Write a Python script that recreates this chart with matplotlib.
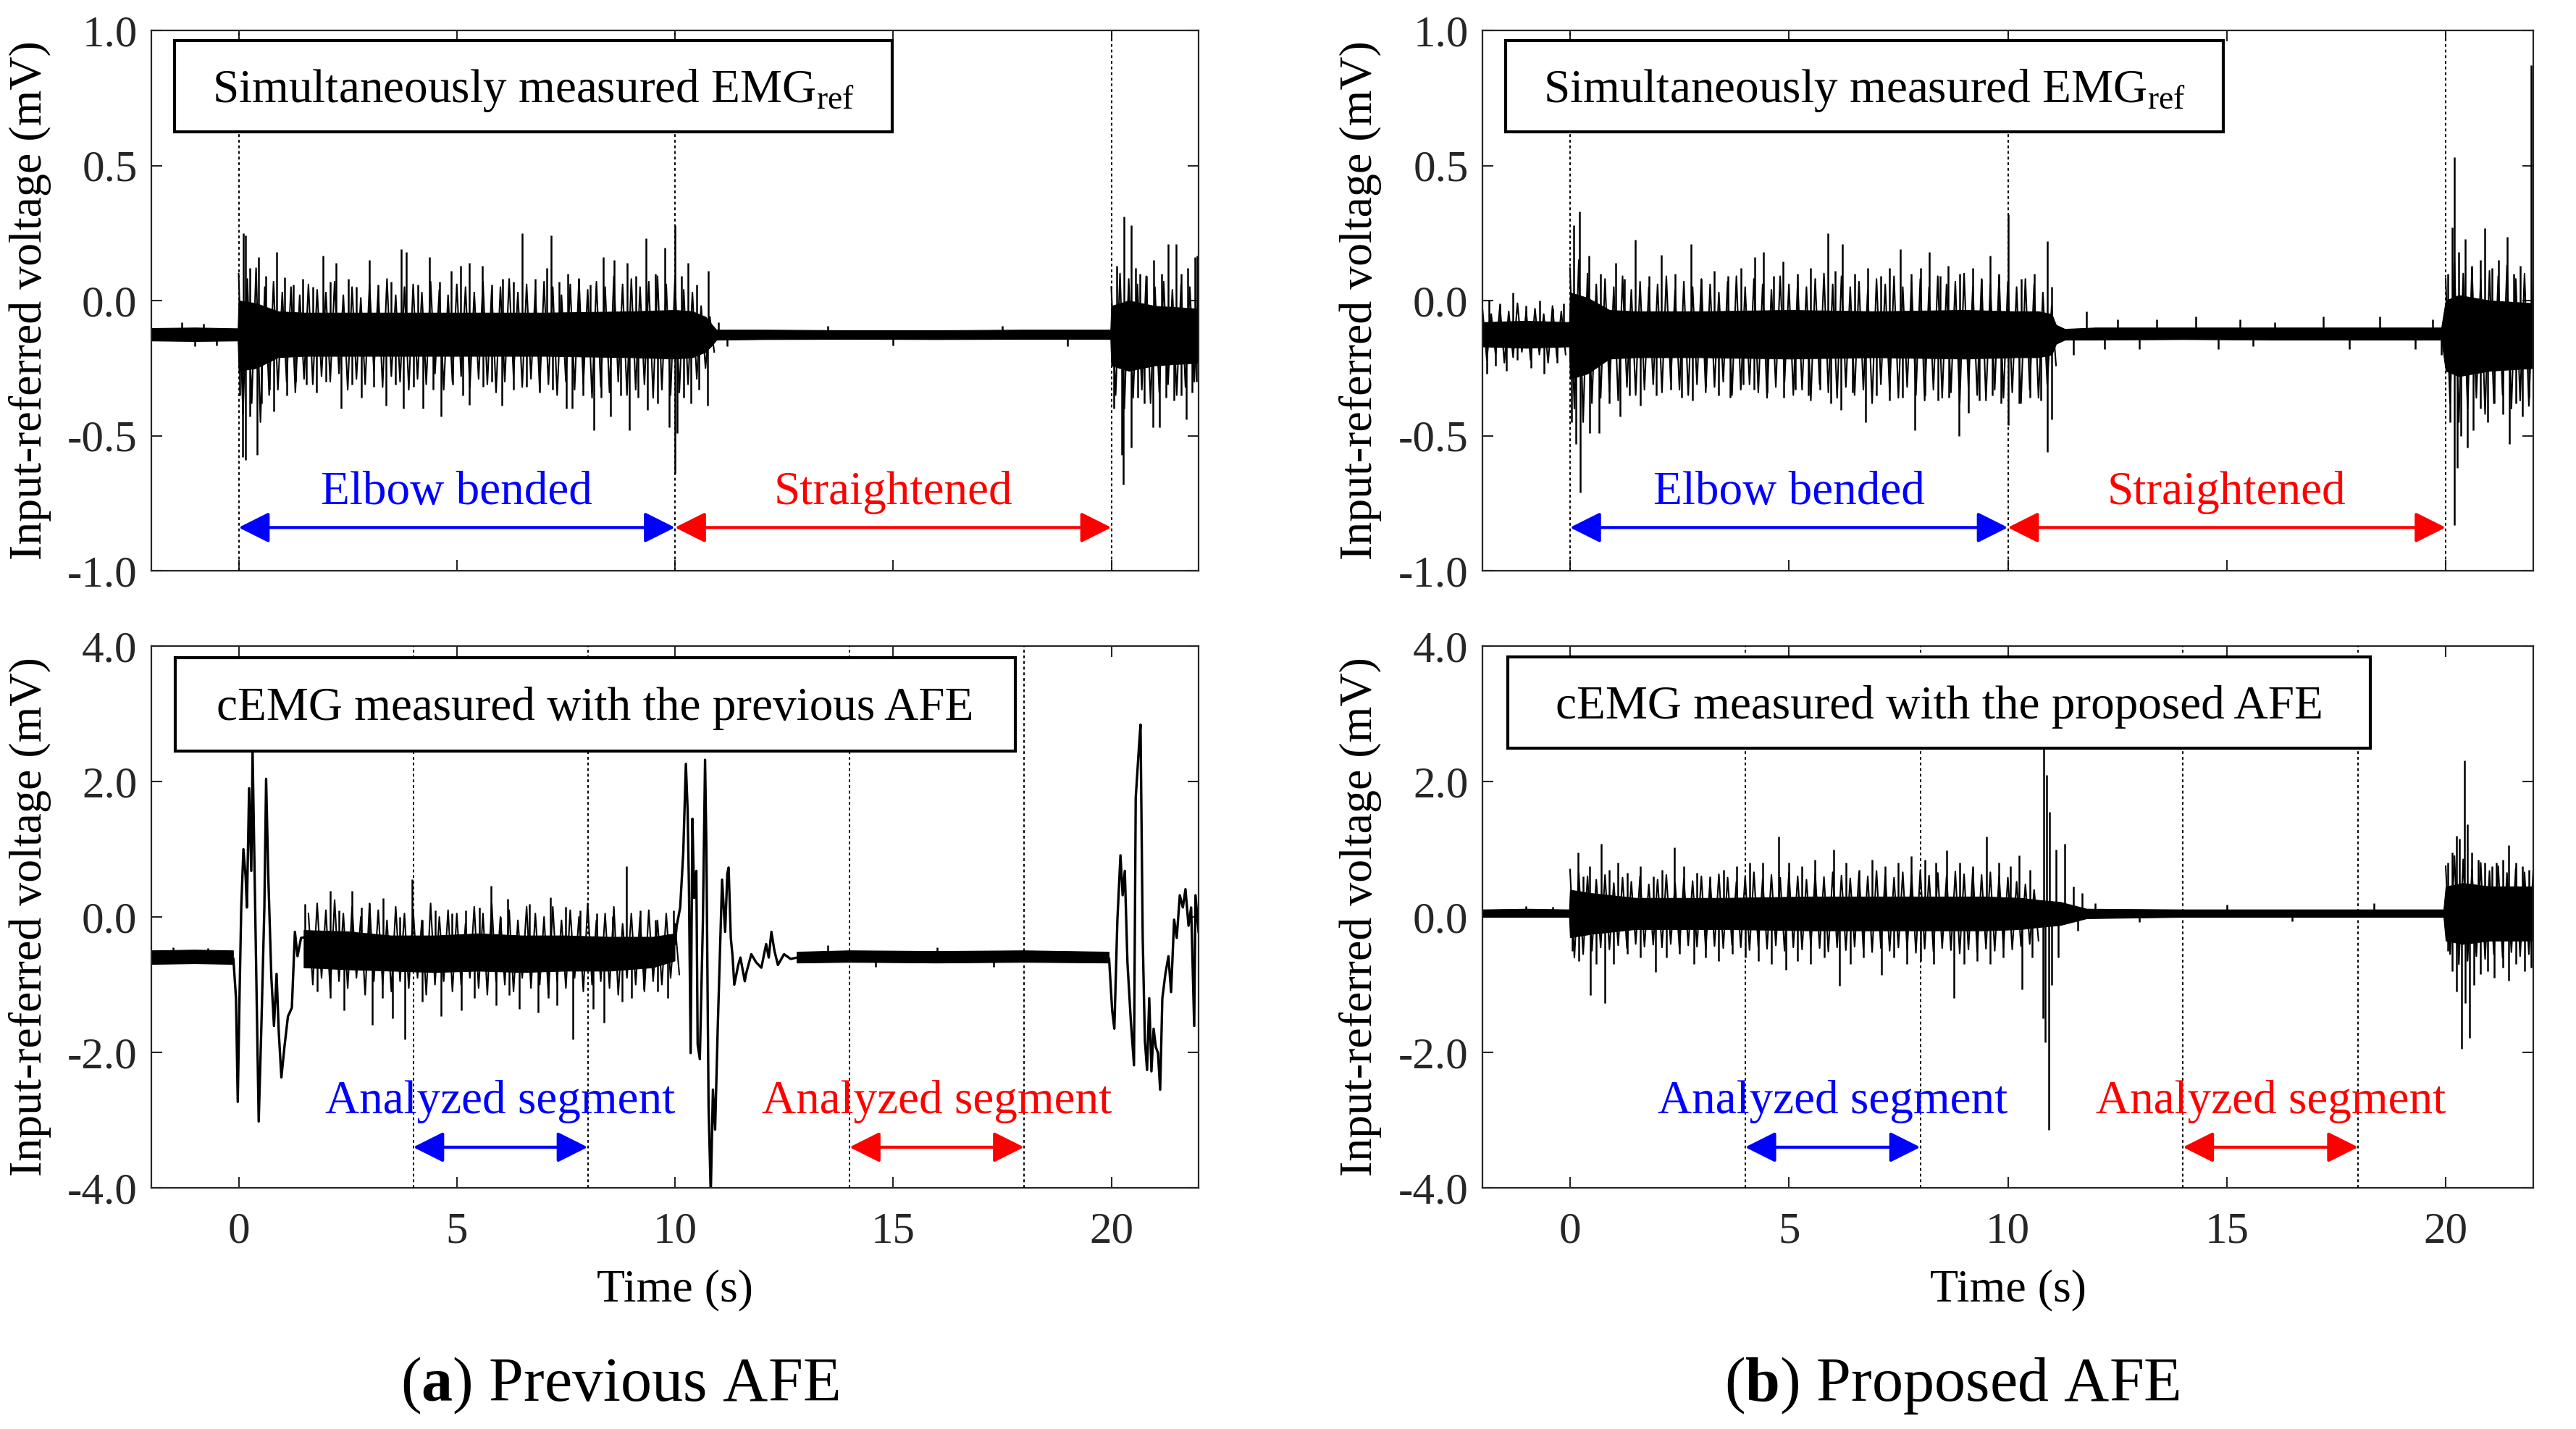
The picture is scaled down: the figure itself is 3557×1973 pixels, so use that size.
import numpy as np
import matplotlib.pyplot as plt
from matplotlib.patches import Rectangle

# Times-like look of the original MATLAB figure
plt.rcParams.update({
    "font.family": "Liberation Serif",
    "mathtext.fontset": "custom",
    "mathtext.rm": "Liberation Serif",
    "mathtext.bf": "Liberation Serif:bold",
    "mathtext.it": "Liberation Serif:italic",
    "axes.unicode_minus": False,
})

# ---------------- data (time in s, voltage in mV) ----------------
# each signal = solid core band (t, hi, lo) + noise texture (start, tips up, tips down, every 0.2 s)
#               + single spikes (t, tip) + slow artefact waves
TEX_STEP = 0.2

# (a) top: EMG_ref measured together with the previous AFE
ref_prev_base = -0.125
ref_prev_band = [(-2.0, -0.102, -0.148), (-1.0, -0.100, -0.150), (-0.02, -0.103, -0.148),
                 (0.0, 0.0, -0.26), (0.4, -0.01, -0.25), (0.9, -0.04, -0.21), (1.5, -0.045, -0.205),
                 (3.0, -0.045, -0.205), (5.0, -0.045, -0.205), (7.0, -0.045, -0.205), (9.0, -0.04, -0.21),
                 (10.0, -0.035, -0.215), (10.4, -0.04, -0.21), (10.7, -0.06, -0.19), (10.85, -0.09, -0.165),
                 (10.95, -0.108, -0.145), (12.0, -0.108, -0.143), (14.0, -0.11, -0.142), (16.0, -0.11, -0.143),
                 (18.0, -0.108, -0.142), (19.98, -0.108, -0.142), (20.0, -0.02, -0.24), (20.4, 0.0, -0.26),
                 (21.0, -0.02, -0.24), (22.0, -0.03, -0.23)]
ref_prev_texture = [
    (0.0,
     [0.10, 0.08, 0.12, 0.05, 0.07, 0.03, 0.05, 0.02, 0.06, 0.04, 0.03, 0.07, 0.02, 0.05, 0.01, 0.06,
      0.04, 0.08, 0.02, 0.05, 0.06, 0.03, 0.07, 0.04, 0.02, 0.06, 0.05, 0.03, 0.07, 0.04, 0.05, 0.08,
      0.03, 0.06, 0.04, 0.07, 0.05, 0.02, 0.06, 0.08, 0.04, 0.07, 0.05, 0.09, 0.06, 0.08, 0.05, 0.07,
      0.09, 0.06, 0.08, 0.04, 0.03, -0.02, -0.06],
     [-0.42, -0.38, -0.45, -0.35, -0.33, -0.30, -0.34, -0.29, -0.31, -0.28, -0.30, -0.27, -0.33, -0.29,
      -0.31, -0.26, -0.32, -0.28, -0.30, -0.33, -0.29, -0.31, -0.27, -0.33, -0.30, -0.28, -0.32, -0.29,
      -0.31, -0.34, -0.30, -0.28, -0.32, -0.29, -0.33, -0.31, -0.35, -0.30, -0.33, -0.31, -0.36, -0.32,
      -0.34, -0.30, -0.35, -0.33, -0.31, -0.36, -0.33, -0.35, -0.34, -0.31, -0.29, -0.25, -0.19]),
    (20.0,
     [0.05, 0.10, 0.08, 0.06, 0.09, 0.05, 0.07, 0.04, 0.06, 0.05, 0.04],
     [-0.35, -0.40, -0.36, -0.33, -0.38, -0.34, -0.31, -0.35, -0.32, -0.30, -0.33])]
ref_prev_spikes = [
    (-1.3, -0.08), (-0.8, -0.085), (-1.0, -0.17), (-0.5, -0.165),
    (0.11, 0.25), (0.16, 0.24), (0.26, 0.12), (0.45, 0.16), (0.62, 0.09), (0.87, 0.18), (1.05, 0.085),
    (1.25, 0.06), (1.47, 0.08), (1.7, 0.05), (1.94, 0.165), (2.1, 0.07), (2.23, 0.14), (2.51, 0.08),
    (2.7, 0.05), (2.99, 0.15), (3.2, 0.06), (3.5, 0.07), (3.73, 0.19), (3.85, 0.18), (4.1, 0.06),
    (4.38, 0.16), (4.6, 0.07), (4.87, 0.11), (5.08, 0.13), (5.29, 0.14), (5.58, 0.13), (5.8, 0.06),
    (6.05, 0.08), (6.3, 0.07), (6.5, 0.25), (6.8, 0.08), (7.06, 0.12), (7.17, 0.24), (7.35, 0.07),
    (7.55, 0.10), (7.8, 0.08), (8.05, 0.06), (8.35, 0.16), (8.61, 0.15), (8.9, 0.14), (9.1, 0.09),
    (9.34, 0.23), (9.55, 0.10), (9.77, 0.195), (10.0, 0.28), (10.15, 0.09), (10.3, 0.14), (10.5, 0.06),
    (10.76, 0.11),
    (0.03, -0.35), (0.09, -0.58), (0.16, -0.59), (0.26, -0.43), (0.43, -0.57), (0.53, -0.38), (0.7, -0.33),
    (0.81, -0.41), (1.1, -0.35), (1.3, -0.30), (1.55, -0.31), (1.79, -0.34), (2.0, -0.30), (2.35, -0.40),
    (2.6, -0.31), (2.82, -0.36), (3.1, -0.32), (3.38, -0.39), (3.6, -0.31), (3.78, -0.40), (4.0, -0.32),
    (4.23, -0.40), (4.45, -0.33), (4.64, -0.43), (4.9, -0.31), (5.14, -0.35), (5.29, -0.385), (5.6, -0.32),
    (5.8, -0.30), (6.04, -0.39), (6.3, -0.33), (6.6, -0.32), (6.9, -0.34), (7.2, -0.33), (7.51, -0.40),
    (7.64, -0.40), (7.9, -0.35), (8.14, -0.48), (8.3, -0.36), (8.53, -0.43), (8.75, -0.35), (8.95, -0.48),
    (9.15, -0.36), (9.37, -0.405), (9.6, -0.38), (9.86, -0.47), (10.0, -0.64), (10.05, -0.49),
    (10.2, -0.36), (10.36, -0.38), (10.55, -0.33), (10.75, -0.39),
    (11.0, -0.08), (13.5, -0.095), (17.5, -0.095), (11.2, -0.17), (15.0, -0.165), (19.0, -0.168),
    (20.12, 0.13), (20.29, 0.31), (20.45, 0.28), (20.56, 0.12), (20.66, 0.10), (20.8, 0.09), (20.97, 0.15),
    (21.15, 0.10), (21.3, 0.21), (21.49, 0.21), (21.6, 0.10), (21.75, 0.12), (21.92, 0.16), (21.97, 0.165),
    (20.05, -0.40), (20.24, -0.57), (20.28, -0.68), (20.45, -0.545), (20.6, -0.36), (20.75, -0.38),
    (20.95, -0.47), (21.1, -0.47), (21.25, -0.36), (21.44, -0.37), (21.6, -0.35), (21.71, -0.44),
    (21.85, -0.34), (21.95, -0.30)]

# (b) top: EMG_ref measured together with the proposed AFE
ref_prop_base = -0.123
ref_prop_band = [(-2.0, -0.08, -0.17), (-1.0, -0.075, -0.175), (-0.02, -0.08, -0.17), (0.0, 0.03, -0.29),
                 (0.4, 0.01, -0.27), (0.9, -0.035, -0.215), (1.5, -0.04, -0.21), (3.0, -0.04, -0.21),
                 (5.0, -0.035, -0.215), (7.0, -0.04, -0.21), (9.0, -0.035, -0.215), (10.2, -0.04, -0.21),
                 (10.7, -0.04, -0.21), (11.0, -0.05, -0.20), (11.1, -0.09, -0.16), (11.3, -0.105, -0.145),
                 (12.0, -0.10, -0.145), (14.0, -0.10, -0.143), (16.0, -0.10, -0.145), (18.0, -0.10, -0.145),
                 (19.9, -0.10, -0.145), (20.0, 0.0, -0.26), (20.3, 0.02, -0.28), (21.0, 0.0, -0.26),
                 (22.0, -0.01, -0.25)]
ref_prop_texture = [
    (-2.0,
     [-0.03, -0.05, -0.02, -0.04, -0.01, -0.04, -0.03, -0.05, -0.02, -0.04],
     [-0.22, -0.20, -0.23, -0.21, -0.19, -0.22, -0.20, -0.23, -0.21, -0.20]),
    (0.0,
     [0.12, 0.15, 0.10, 0.06, 0.08, 0.05, 0.09, 0.04, 0.07, 0.05, 0.06, 0.09, 0.04, 0.07, 0.05, 0.08,
      0.06, 0.03, 0.07, 0.09, 0.05, 0.08, 0.06, 0.04, 0.09, 0.06, 0.07, 0.05, 0.08, 0.10, 0.06, 0.09,
      0.05, 0.07, 0.04, 0.08, 0.06, 0.09, 0.05, 0.07, 0.08, 0.05, 0.09, 0.06, 0.07, 0.10, 0.05, 0.08,
      0.06, 0.09, 0.07, 0.05, 0.08, 0.06, 0.03, -0.02],
     [-0.40, -0.45, -0.38, -0.36, -0.34, -0.37, -0.32, -0.35, -0.33, -0.31, -0.34, -0.30, -0.33, -0.35,
      -0.31, -0.34, -0.32, -0.30, -0.35, -0.33, -0.31, -0.34, -0.36, -0.32, -0.30, -0.35, -0.33, -0.37,
      -0.31, -0.34, -0.36, -0.32, -0.35, -0.33, -0.38, -0.31, -0.34, -0.36, -0.32, -0.35, -0.37, -0.33,
      -0.36, -0.34, -0.38, -0.32, -0.35, -0.37, -0.33, -0.36, -0.34, -0.38, -0.33, -0.36, -0.31, -0.24]),
    (20.0,
     [0.08, 0.14, 0.10, 0.12, 0.08, 0.11, 0.09, 0.13, 0.08, 0.10, 0.09],
     [-0.38, -0.45, -0.40, -0.36, -0.42, -0.38, -0.35, -0.40, -0.37, -0.39, -0.36])]
ref_prop_spikes = [
    (-1.85, 0.0), (-1.6, -0.01), (-1.3, 0.03), (-1.0, -0.02), (-0.7, 0.0), (-0.4, -0.03), (-0.15, -0.01),
    (-1.9, -0.27), (-1.7, -0.24), (-1.45, -0.26), (-1.2, -0.22), (-0.9, -0.25), (-0.6, -0.27), (-0.3, -0.23),
    (0.08, 0.28), (0.22, 0.33), (0.43, 0.165), (0.7, 0.10), (1.04, 0.14), (1.25, 0.08), (1.49, 0.225),
    (1.8, 0.09), (2.09, 0.17), (2.4, 0.10), (2.76, 0.21), (3.0, 0.08), (3.3, 0.11), (3.6, 0.09),
    (3.9, 0.12), (4.22, 0.16), (4.42, 0.18), (4.65, 0.09), (4.87, 0.145), (5.2, 0.10), (5.5, 0.12),
    (5.89, 0.25), (6.05, 0.11), (6.22, 0.21), (6.5, 0.10), (6.8, 0.12), (7.1, 0.09), (7.3, 0.12),
    (7.55, 0.19), (7.8, 0.10), (8.0, 0.12), (8.21, 0.18), (8.45, 0.09), (8.63, 0.13), (8.9, 0.10),
    (9.2, 0.12), (9.4, 0.08), (9.59, 0.165), (9.8, 0.10), (10.0, 0.32), (10.3, 0.08), (10.6, 0.10),
    (10.9, 0.22), (11.0, 0.05),
    (0.03, -0.45), (0.13, -0.53), (0.24, -0.71), (0.44, -0.49), (0.66, -0.49), (0.9, -0.38), (1.15, -0.43),
    (1.35, -0.35), (1.6, -0.39), (1.97, -0.35), (2.3, -0.33), (2.55, -0.36), (2.8, -0.37), (3.1, -0.32),
    (3.4, -0.35), (3.65, -0.36), (3.95, -0.31), (4.2, -0.33), (4.5, -0.34), (4.88, -0.36), (5.15, -0.33),
    (5.45, -0.35), (5.7, -0.33), (5.95, -0.38), (6.19, -0.405), (6.45, -0.34), (6.75, -0.45), (7.0, -0.35),
    (7.3, -0.37), (7.6, -0.36), (7.87, -0.48), (8.1, -0.35), (8.4, -0.37), (8.65, -0.36), (8.89, -0.50),
    (9.1, -0.415), (9.35, -0.37), (9.65, -0.35), (9.85, -0.38), (10.0, -0.46), (10.25, -0.38),
    (10.5, -0.36), (10.75, -0.37), (10.9, -0.56), (11.0, -0.44),
    (11.8, -0.04), (12.5, -0.07), (13.4, -0.07), (14.3, -0.06), (15.3, -0.07), (16.1, -0.08), (17.2, -0.06),
    (18.5, -0.06), (19.7, -0.07), (11.5, -0.20), (12.2, -0.18), (13.0, -0.18), (14.8, -0.18), (15.6, -0.17),
    (17.8, -0.18), (19.3, -0.18), (19.9, -0.20),
    (20.05, 0.10), (20.15, 0.27), (20.2, 0.53), (20.3, 0.18), (20.45, 0.227), (20.6, 0.13), (20.8, 0.15),
    (20.9, 0.268), (21.05, 0.12), (21.2, 0.15), (21.4, 0.237), (21.55, 0.10), (21.7, 0.13), (21.95, 0.87),
    (20.1, -0.45), (20.2, -0.83), (20.27, -0.62), (20.35, -0.50), (20.5, -0.544), (20.62, -0.48),
    (20.8, -0.40), (20.95, -0.45), (21.1, -0.38), (21.3, -0.42), (21.45, -0.53), (21.6, -0.38),
    (21.75, -0.43), (21.9, -0.36)]

# (a) bottom: cEMG measured with the previous AFE (nan = artefact drawn as a wave)
cemg_prev_base = -0.55
cemg_prev_band = [(-2.0, -0.50, -0.70), (-1.0, -0.49, -0.69), (-0.12, -0.50, -0.70), (0.5, np.nan, np.nan),
                  (1.5, -0.20, -0.75), (2.5, -0.22, -0.78), (3.5, -0.28, -0.80), (4.5, -0.28, -0.82),
                  (5.5, -0.25, -0.80), (6.5, -0.28, -0.82), (7.5, -0.28, -0.80), (8.5, -0.30, -0.80),
                  (9.5, -0.30, -0.75), (10.0, -0.25, -0.65), (11.0, np.nan, np.nan),
                  (12.8, -0.52, -0.68), (14.0, -0.50, -0.67), (16.0, -0.51, -0.68), (18.0, -0.50, -0.67),
                  (19.95, -0.52, -0.68)]
cemg_prev_texture = [
    (1.6,
     [0.05, 0.20, 0.10, 0.25, 0.05, 0.15, 0.00, 0.20, 0.10, -0.05, 0.15, 0.05, 0.10, -0.05, 0.20, 0.00,
      0.10, 0.05, -0.10, 0.15, 0.05, 0.20, 0.00, 0.10, -0.05, 0.15, 0.05, 0.00, 0.15, -0.05, 0.10, 0.00,
      0.20, -0.05, 0.05, 0.15, -0.10, 0.05, 0.00, 0.10, -0.05, 0.05, -0.10],
     [-1.00, -0.90, -1.10, -0.95, -1.05, -0.90, -1.15, -0.95, -1.00, -1.10, -0.95, -1.05, -0.90, -1.15,
      -1.00, -0.95, -1.10, -1.00, -0.90, -1.05, -1.15, -0.95, -1.00, -1.10, -0.90, -1.05, -1.00, -1.15,
      -0.95, -1.05, -0.90, -1.10, -1.00, -0.95, -1.05, -1.15, -0.90, -1.00, -1.10, -0.95, -1.00, -0.90,
      -0.85])]
cemg_prev_spikes = [
    (1.52, 0.19), (2.1, 0.39), (2.3, 0.10), (2.6, 0.39), (2.82, 0.14), (3.0, 0.20), (3.31, 0.28),
    (3.7, 0.0), (3.97, 0.56), (4.2, -0.04), (4.5, 0.10), (4.88, 0.05), (5.2, 0.10), (5.52, 0.14),
    (5.79, 0.46), (6.0, 0.0), (6.17, 0.27), (6.67, 0.19), (7.14, 0.29), (7.5, 0.15), (7.82, 0.10),
    (8.2, 0.05), (8.57, 0.01), (8.89, 0.75), (9.2, 0.10), (9.56, -0.04), (9.96, 0.10),
    (1.8, -1.10), (2.1, -1.20), (2.42, -1.38), (3.07, -1.59), (3.3, -1.20), (3.53, -1.50), (3.81, -1.81),
    (4.2, -1.25), (4.64, -1.47), (5.1, -1.38), (5.4, -1.20), (5.9, -1.30), (6.2, -1.15), (6.43, -1.36),
    (6.87, -1.41), (7.1, -1.20), (7.3, -1.30), (7.66, -1.81), (8.13, -1.36), (8.37, -1.56), (8.79, -1.25),
    (9.0, -1.20), (9.29, -1.07), (9.6, -1.10), (9.84, -1.20),
    (-1.5, -0.45), (-0.7, -0.46), (13.5, -0.42), (16.0, -0.45), (17.3, -0.74), (14.6, -0.74)]
cemg_prev_wave_t = [-0.12, -0.06, -0.02, 0.02, 0.06, 0.11, 0.16, 0.19, 0.24, 0.29, 0.32, 0.37, 0.41, 0.46,
                    0.52, 0.59, 0.63, 0.68, 0.75, 0.81, 0.87, 0.92, 0.98, 1.05, 1.13, 1.22, 1.29, 1.35,
                    1.43, 1.51, np.nan,
                    10.0, 10.04, 10.12, 10.19, 10.25, 10.29, 10.32, 10.36, 10.40, 10.44, 10.49, 10.52, 10.57,
                    10.64, 10.69, 10.72, 10.77, 10.82, 10.87, 10.92, 10.98, 11.08, 11.15, 11.2, 11.23, 11.28,
                    11.32, 11.36, 11.45, 11.5, 11.6, 11.63, 11.75, 11.86, 11.98, 12.09, 12.15, 12.21, 12.28,
                    12.36, 12.5, 12.65, 12.8, np.nan,
                    19.95, 20.02, 20.07, 20.14, 20.21, 20.26, 20.31, 20.37, 20.45, 20.52, 20.56, 20.64, 20.67,
                    20.72, 20.77, 20.82, 20.87, 20.92, 20.97, 21.02, 21.07, 21.12, 21.17, 21.24, 21.31, 21.37,
                    21.44, 21.5, 21.57, 21.64, 21.7, 21.77, 21.83, 21.9, 21.93, 22.0]
cemg_prev_wave_v = [-0.62, -1.2, -2.73, -1.2, 0.14, 1.0, 0.6, 0.14, 1.9, 0.68, 2.44, 0.5, -1.07, -3.02,
                    -1.65, 0.14, 2.04, 0.6, -0.89, -1.61, -0.84, -1.7, -2.37, -1.92, -1.47, -1.34, -0.22, -0.58,
                    -0.31, -0.3, np.nan,
                    -0.4, -0.13, 0.14, 0.95, 2.26, 1.58, 0.46, -2.01, 1.45, 0.28, 0.68, -1.88, -2.1,
                    -0.08, 2.32, 1.04, -2.78, -4.1, -2.55, -3.14, -1.65, 0.55, -0.22, 0.64, 0.73, -0.31,
                    -0.58, -1.0, -0.71, -0.6, -0.95, -0.84, -0.55, -0.67, -0.75, -0.40, -0.6, -0.22, -0.5,
                    -0.71, -0.55, -0.62, -0.6, np.nan,
                    -0.62, -1.38, -1.65, -0.04, 0.91, 0.32, 0.68, -0.67, -1.56, -2.19, 1.76, 2.57, 2.84,
                    -0.31, -1.83, -2.26, -1.2, -2.28, -1.65, -1.92, -2.01, -2.55, -1.2, -0.84, -0.58, -1.11,
                    -0.04, -0.31, 0.32, 0.14, 0.41, -0.13, 0.14, -1.61, 0.32, -0.22]

# (b) bottom: cEMG measured with the proposed AFE
cemg_prop_base = 0.05
cemg_prop_band = [(-2.0, 0.11, 0.0), (-1.0, 0.12, 0.0), (-0.02, 0.11, 0.0), (0.0, 0.40, -0.30),
                  (0.5, 0.35, -0.25), (1.5, 0.28, -0.18), (3.5, 0.28, -0.18), (5.5, 0.30, -0.20),
                  (7.5, 0.30, -0.20), (9.5, 0.30, -0.20), (10.3, 0.28, -0.18), (10.7, 0.25, -0.15),
                  (11.2, 0.22, -0.12), (11.8, 0.12, -0.02), (14.0, 0.11, 0.0), (17.0, 0.11, 0.0),
                  (19.95, 0.11, 0.0), (20.0, 0.45, -0.35), (20.4, 0.50, -0.40), (21.0, 0.45, -0.35),
                  (22.0, 0.45, -0.35)]
cemg_prop_texture = [
    (0.0,
     [0.70, 0.65, 0.60, 0.55, 0.62, 0.50, 0.58, 0.52, 0.60, 0.48, 0.55, 0.62, 0.50, 0.57, 0.53, 0.60,
      0.55, 0.63, 0.58, 0.52, 0.60, 0.66, 0.56, 0.62, 0.58, 0.65, 0.60, 0.55, 0.64, 0.59, 0.66, 0.61,
      0.57, 0.65, 0.60, 0.68, 0.62, 0.58, 0.66, 0.63, 0.69, 0.61, 0.65, 0.60, 0.67, 0.63, 0.70, 0.62,
      0.66, 0.60, 0.58, 0.52, 0.48, 0.40],
     [-0.60, -0.55, -0.50, -0.45, -0.48, -0.42, -0.46, -0.40, -0.44, -0.41, -0.45, -0.40, -0.47, -0.42,
      -0.44, -0.48, -0.43, -0.46, -0.41, -0.45, -0.49, -0.44, -0.47, -0.42, -0.50, -0.45, -0.48, -0.43,
      -0.46, -0.51, -0.45, -0.49, -0.44, -0.47, -0.52, -0.46, -0.50, -0.45, -0.48, -0.53, -0.47, -0.51,
      -0.46, -0.49, -0.54, -0.48, -0.52, -0.47, -0.50, -0.46, -0.48, -0.43, -0.40, -0.35]),
    (20.0,
     [0.75, 0.90, 0.85, 0.70, 0.80, 0.68, 0.75, 0.65, 0.72, 0.66, 0.70],
     [-0.55, -0.70, -0.65, -0.58, -0.62, -0.55, -0.60, -0.52, -0.58, -0.55, -0.57])]
cemg_prop_spikes = [
    (-1.0, 0.16), (-0.4, 0.15), (12.0, 0.20), (15.0, 0.18), (18.36, 0.20), (13.0, -0.07), (16.5, -0.06),
    (0.19, 0.95), (0.3, 0.60), (0.45, 0.75), (0.71, 1.08), (0.9, 0.70), (1.1, 0.80), (1.3, 0.65),
    (1.6, 0.75), (1.9, 0.60), (2.1, 0.70), (2.39, 1.03), (2.6, 0.75), (2.9, 0.65), (3.2, 0.60),
    (3.5, 0.70), (3.8, 0.75), (4.1, 0.80), (4.4, 0.80), (4.77, 1.19), (5.0, 0.80), (5.3, 0.75),
    (5.6, 0.85), (6.03, 1.00), (6.3, 0.80), (6.6, 0.70), (6.9, 0.85), (7.2, 0.75), (7.5, 0.80),
    (7.8, 0.90), (8.1, 0.85), (8.35, 0.80), (8.6, 0.98), (8.9, 0.80), (9.2, 0.75), (9.51, 1.19),
    (9.8, 0.80), (10.05, 0.75), (10.25, 0.91), (10.5, 0.70),
    (0.05, -0.50), (0.2, -0.65), (0.47, -1.15), (0.6, -0.70), (0.79, -1.27), (1.0, -0.70), (1.3, -0.55),
    (1.6, -0.60), (1.96, -0.81), (2.2, -0.60), (2.5, -0.55), (2.83, -0.70), (3.1, -0.60), (3.4, -0.65),
    (3.7, -0.55), (4.0, -0.60), (4.3, -0.65), (4.6, -0.70), (4.93, -0.78), (5.2, -0.65), (5.5, -0.70),
    (5.8, -0.60), (6.15, -1.02), (6.4, -0.70), (6.7, -0.60), (7.11, -0.86), (7.4, -0.60), (7.7, -0.70),
    (8.0, -0.65), (8.3, -0.70), (8.77, -1.20), (9.0, -0.70), (9.3, -0.65), (9.6, -0.70), (9.9, -0.60),
    (10.32, -1.07), (10.55, -0.60),
    (10.82, 2.50), (10.88, 2.10), (10.95, 1.55), (11.1, 1.00), (11.3, 1.08), (11.5, 0.45), (11.7, 0.35),
    (10.8, -1.50), (10.85, -1.85), (10.93, -3.14), (11.0, -1.00), (11.15, -0.60), (11.6, -0.20),
    (20.05, 0.80), (20.15, 0.95), (20.25, 1.20), (20.32, 1.16), (20.43, 2.31), (20.5, 1.37), (20.6, 0.95),
    (20.75, 0.85), (20.9, 0.80), (21.05, 0.75), (21.15, 0.80), (21.3, 0.85), (21.44, 1.06), (21.6, 0.80),
    (21.75, 0.75), (21.9, 0.69),
    (20.05, -0.50), (20.15, -0.80), (20.25, -1.10), (20.36, -1.95), (20.45, -1.27), (20.55, -1.79),
    (20.65, -1.00), (20.8, -0.85), (20.95, -0.80), (21.1, -0.90), (21.3, -0.75), (21.44, -0.94),
    (21.6, -0.70), (21.8, -0.80), (21.95, -0.75)]

# annotation data
phase_marks = [0, 10, 20]
phase_labels = ["Elbow bended", "Straightened"]
segment_marks = [(4, 8), (14, 18)]
label_colors = ["#0000FF", "#FF0000"]
x_ticks = [0, 5, 10, 15, 20]
top_yticks = [-1.0, -0.5, 0.0, 0.5, 1.0]
bottom_yticks = [-4.0, -2.0, 0.0, 2.0, 4.0]
top_titles = ["Simultaneously measured EMG$_{\\mathrm{ref}}$"] * 2
bottom_titles = ["cEMG measured with the previous AFE", "cEMG measured with the proposed AFE"]
captions = ["($\\mathbf{a}$) Previous AFE", "($\\mathbf{b}$) Proposed AFE"]

# ---------------- figure ----------------
W, H = 3557, 1973
fig = plt.figure(figsize=(W / 100, H / 100), dpi=100)


def px_axes(x0, y0, x1, y1):
    return fig.add_axes([x0 / W, 1 - y1 / H, (x1 - x0) / W, (y1 - y0) / H])


ax_tl = px_axes(209, 42, 1655, 788)
ax_bl = px_axes(209, 892, 1655, 1640)
ax_tr = px_axes(2047, 42, 3498, 788)
ax_br = px_axes(2047, 892, 3498, 1640)

spine_col = "#262626"


def style_axes(ax, yticks, ylim, show_x):
    ax.set_xlim(-2, 22)
    ax.set_ylim(*ylim)
    ax.set_xticks(x_ticks)
    ax.set_yticks(yticks)
    ax.set_yticklabels([f"{v:.1f}" for v in yticks])
    if not show_x:
        ax.set_xticklabels([])
    ax.tick_params(direction="in", top=True, right=True, length=11, width=1.5,
                   colors=spine_col, labelsize=44, labelcolor=spine_col)
    ax.tick_params(axis="x", pad=24)
    ax.tick_params(axis="y", pad=14)
    for s in ax.spines.values():
        s.set_color(spine_col)
        s.set_linewidth(1.6)
    ax.text(-0.116, 0.5, "Input-referred voltage (mV)", transform=ax.transAxes,
            rotation=90, ha="center", va="center", fontsize=46, color="k")


def draw_signal(ax, band, texture, spikes, base, wave_t=None, wave_v=None):
    bt = np.array([b[0] for b in band], float)
    bh = np.array([b[1] for b in band], float)
    bl = np.array([b[2] for b in band], float)
    ok = np.isfinite(bh)
    ax.fill_between(bt, np.nan_to_num(bl), np.nan_to_num(bh), where=ok,
                    color="k", lw=0.8, zorder=2)
    # noise texture: zig-zag between the read tips
    for t0, ups, dns in texture:
        t = t0 + TEX_STEP * np.arange(len(ups))
        zt = np.column_stack([t, t + TEX_STEP / 2]).ravel()
        zv = np.column_stack([ups, dns]).ravel()
        ax.plot(zt, zv, color="k", lw=1.5, zorder=2)
    st = [s[0] for s in spikes]
    sv = [s[1] for s in spikes]
    ax.vlines(st, base, sv, colors="k", lw=1.8, zorder=2)
    if wave_t is not None:
        ax.plot(wave_t, wave_v, color="k", lw=2.4, zorder=2)


def title_box(ax, x0, y0, x1, y1, text):
    ax.add_patch(Rectangle((x0, y0), x1 - x0, y1 - y0, transform=ax.transAxes,
                           facecolor="white", edgecolor="k", lw=3, zorder=5))
    ax.text((x0 + x1) / 2, (y0 + y1) / 2 - 0.008, text, transform=ax.transAxes,
            ha="center", va="center", fontsize=47, zorder=6)


def double_arrow(ax, x0, x1, y, color):
    ax.annotate("", xy=(x1, y), xytext=(x0, y),
                arrowprops=dict(arrowstyle="<|-|>,head_length=26,head_width=13",
                                mutation_scale=1, color=color, lw=3,
                                shrinkA=0, shrinkB=0), zorder=4)


dots = dict(color="k", lw=1.4, linestyle=(0, (2, 2)), zorder=3)

# top panels: EMG_ref
for ax, band, tex, spikes, base in [(ax_tl, ref_prev_band, ref_prev_texture, ref_prev_spikes, ref_prev_base),
                                    (ax_tr, ref_prop_band, ref_prop_texture, ref_prop_spikes, ref_prop_base)]:
    style_axes(ax, top_yticks, (-1.0, 1.0), False)
    draw_signal(ax, band, tex, spikes, base)
    for m in phase_marks:
        ax.axvline(m, **dots)
    for i in range(2):
        x0, x1 = phase_marks[i], phase_marks[i + 1]
        ax.text((x0 + x1) / 2, -0.753, phase_labels[i], color=label_colors[i],
                ha="center", va="baseline", fontsize=47, zorder=4)
        double_arrow(ax, x0, x1, -0.84, label_colors[i])

title_box(ax_tl, 0.0221, 0.812, 0.7075, 0.981, top_titles[0])
title_box(ax_tr, 0.0221, 0.812, 0.7050, 0.981, top_titles[1])

# bottom panels: cEMG
style_axes(ax_bl, bottom_yticks, (-4.0, 4.0), True)
draw_signal(ax_bl, cemg_prev_band, cemg_prev_texture, cemg_prev_spikes, cemg_prev_base,
            cemg_prev_wave_t, cemg_prev_wave_v)
style_axes(ax_br, bottom_yticks, (-4.0, 4.0), True)
draw_signal(ax_br, cemg_prop_band, cemg_prop_texture, cemg_prop_spikes, cemg_prop_base)

for ax in (ax_bl, ax_br):
    for i, (x0, x1) in enumerate(segment_marks):
        ax.axvline(x0, **dots)
        ax.axvline(x1, **dots)
        ax.text((x0 + x1) / 2, -2.90, "Analyzed segment", color=label_colors[i],
                ha="center", va="baseline", fontsize=47, zorder=4)
        double_arrow(ax, x0, x1, -3.40, label_colors[i])
    ax.text(0.5, -0.2086, "Time (s)", transform=ax.transAxes,
            ha="center", va="baseline", fontsize=46)

title_box(ax_bl, 0.0228, 0.806, 0.8250, 0.979, bottom_titles[0])
title_box(ax_br, 0.0241, 0.811, 0.8449, 0.980, bottom_titles[1])

fig.text(855 / W, 1 - 1934 / H, captions[0], ha="center", va="baseline", fontsize=62)
fig.text(2695 / W, 1 - 1934 / H, captions[1], ha="center", va="baseline", fontsize=62)

fig.savefig("out.png", dpi=100)
